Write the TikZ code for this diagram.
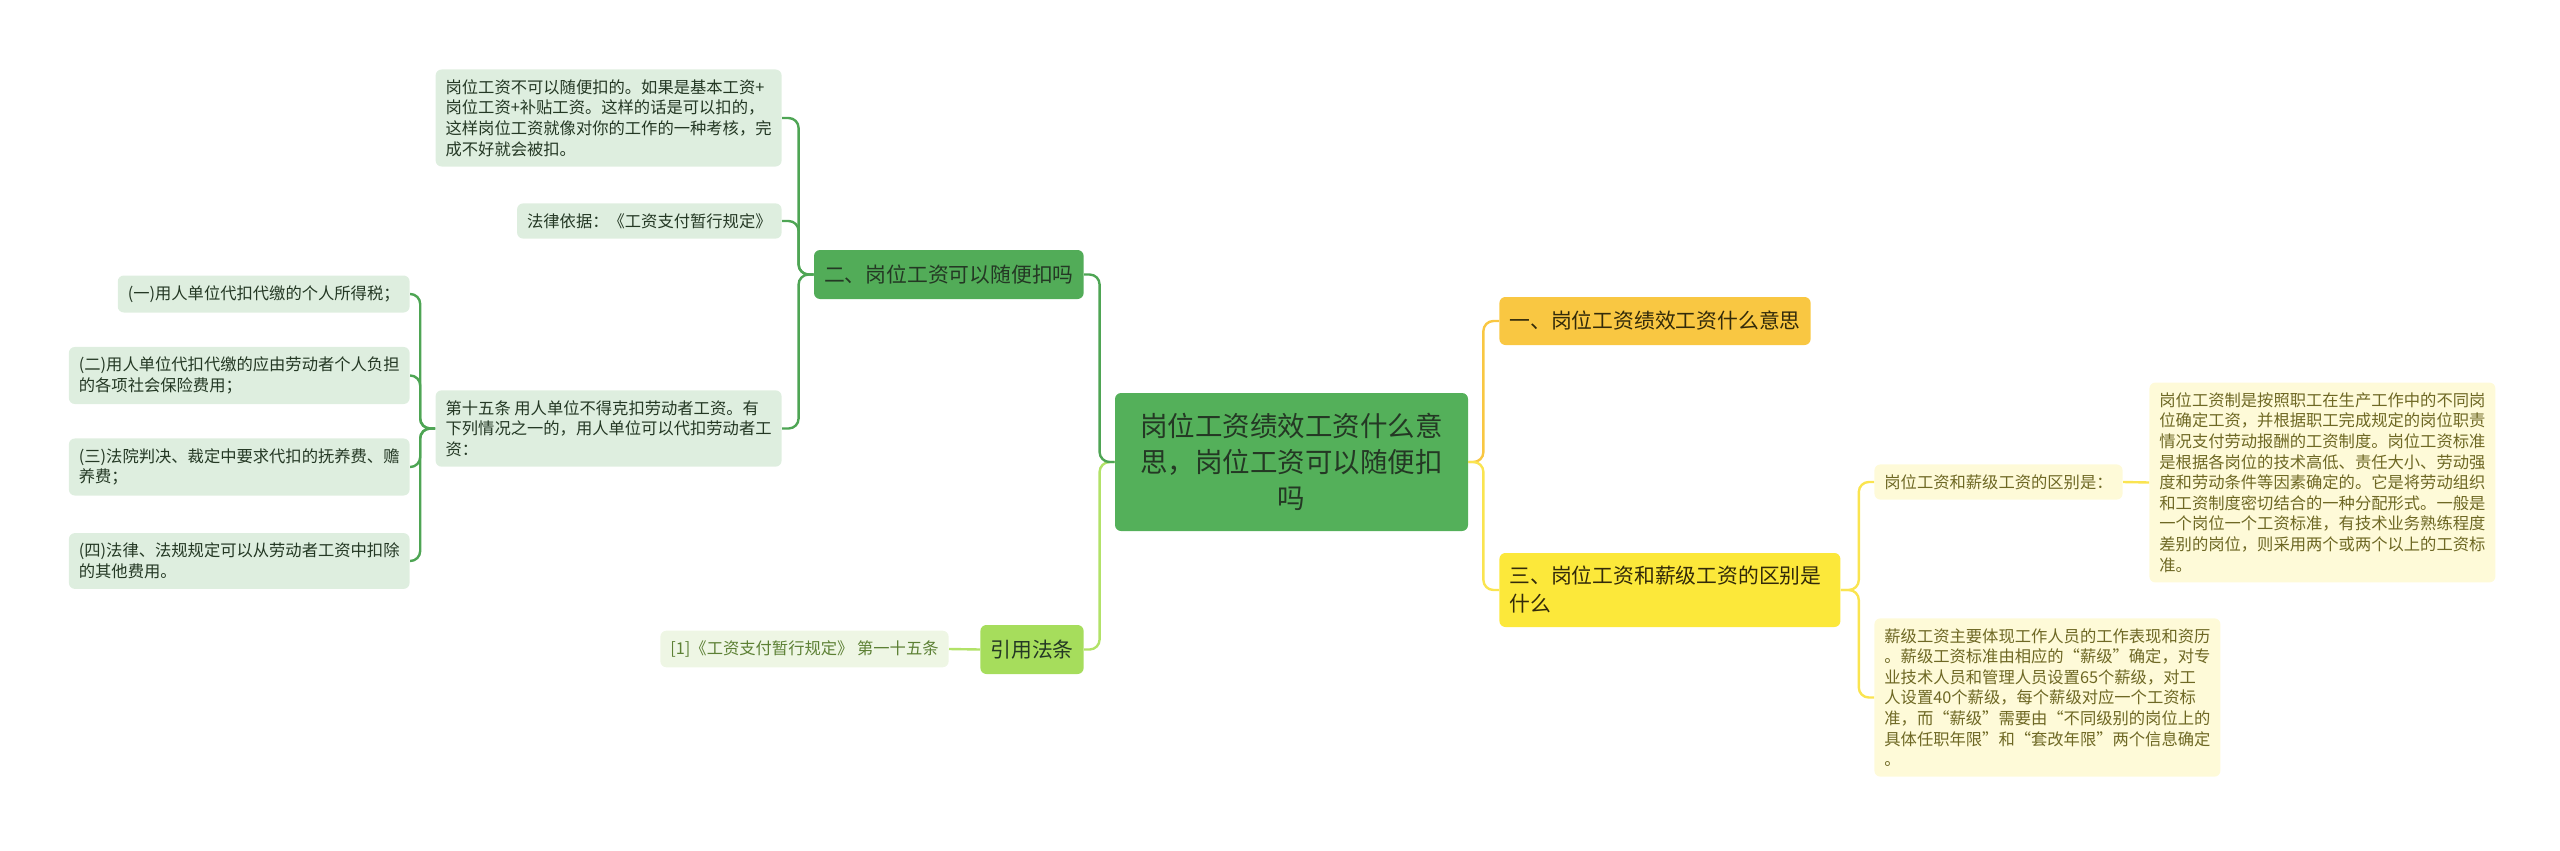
\documentclass[tikz,border=0pt]{standalone}
\usepackage{xcolor}
\usepackage{fontspec}
\setmainfont{Noto Sans CJK SC}
\usepackage{tikz}
\usetikzlibrary{positioning,calc}
\definecolor{rootgreen}{RGB}{84,176,90}
\definecolor{branchgreen}{RGB}{82,172,88}
\definecolor{linegreen}{RGB}{78,165,84}
\definecolor{limefill}{RGB}{166,221,92}
\definecolor{limeline}{RGB}{178,226,104}
\definecolor{palegreen}{RGB}{222,238,223}
\definecolor{palelime}{RGB}{238,246,228}
\definecolor{amber}{RGB}{249,199,66}
\definecolor{sunfill}{RGB}{252,232,58}
\definecolor{sunline}{RGB}{250,228,80}
\definecolor{cream}{RGB}{254,250,216}
\definecolor{inkgreen}{RGB}{36,56,36}
\definecolor{inkbrown}{RGB}{50,42,10}
\definecolor{olivetext}{RGB}{110,104,36}
\definecolor{limetext}{RGB}{92,128,52}
\tikzset{
  rootbox/.style={fill=rootgreen, rounded corners=3pt, text=inkgreen, align=center,
    font=\fontsize{13.75pt}{18pt}\selectfont, minimum width=176.5pt, minimum height=69pt, inner sep=0pt},
  greenbox/.style={fill=branchgreen, rounded corners=3pt, text=inkgreen,
    font=\fontsize{10.4pt}{14pt}\selectfont, minimum height=24.5pt, inner xsep=5pt},
  limebox/.style={fill=limefill, rounded corners=3pt, text=inkgreen,
    font=\fontsize{10.4pt}{14pt}\selectfont, minimum height=24.5pt, inner xsep=5pt},
  amberbox/.style={fill=amber, rounded corners=3pt, text=inkbrown,
    font=\fontsize{10.4pt}{14pt}\selectfont, minimum height=24pt, inner xsep=5pt},
  sunbox/.style={fill=sunfill, rounded corners=3pt, text=inkbrown, align=left, text width=160.5pt,
    font=\fontsize{10.4pt}{14pt}\selectfont, minimum height=37pt, inner xsep=5pt},
  leafgreen/.style={fill=palegreen, rounded corners=3pt, text=inkgreen, align=left,
    font=\fontsize{8.15pt}{10.3pt}\selectfont, inner xsep=5pt, inner ysep=5pt, minimum height=17pt},
  leaflime/.style={fill=palelime, rounded corners=3pt, text=limetext, align=left,
    font=\fontsize{8.15pt}{10.3pt}\selectfont, inner xsep=5pt, inner ysep=5pt, minimum height=17pt},
  leafsun/.style={fill=cream, rounded corners=3pt, text=olivetext, align=left,
    font=\fontsize{8.15pt}{10.3pt}\selectfont, inner xsep=5pt, inner ysep=5pt, minimum height=17pt},
  greenlink/.style={draw=linegreen, line width=1.2pt, rounded corners=5pt},
  limelink/.style={draw=limeline, line width=1.2pt, rounded corners=5pt},
  amberlink/.style={draw=amber, line width=1.2pt, rounded corners=5pt},
  sunlink/.style={draw=sunline, line width=1.2pt, rounded corners=5pt}
}
\begin{document}
\begin{tikzpicture}[x=0.5pt, y=-0.5pt]
\useasboundingbox (0,0) rectangle (2560,851);
\node[rootbox] (root) at (1291.5,462) {岗位工资绩效工资什么意\\思，岗位工资可以随便扣\\吗};

% left side
\node[greenbox, anchor=east] (deduct) at (1084,274.5) {二、岗位工资可以随便扣吗};
\node[limebox, anchor=east] (cite) at (1084,649.5) {引用法条};
\node[leafgreen, anchor=east] (note) at (782,118) {岗位工资不可以随便扣的。如果是基本工资+\\岗位工资+补贴工资。这样的话是可以扣的，\\这样岗位工资就像对你的工作的一种考核，完\\成不好就会被扣。};
\node[leafgreen, anchor=east] (basis) at (782,221) {法律依据：《工资支付暂行规定》};
\node[leafgreen, anchor=east] (art) at (782,428.5) {第十五条 用人单位不得克扣劳动者工资。有\\下列情况之一的，用人单位可以代扣劳动者工\\资：};
\node[leafgreen, anchor=east] (item1) at (410,294) {(一)用人单位代扣代缴的个人所得税；};
\node[leafgreen, anchor=east] (item2) at (410,375.5) {(二)用人单位代扣代缴的应由劳动者个人负担\\的各项社会保险费用；};
\node[leafgreen, anchor=east] (item3) at (410,467) {(三)法院判决、裁定中要求代扣的抚养费、赡\\养费；};
\node[leafgreen, anchor=east] (item4) at (410,561) {(四)法律、法规规定可以从劳动者工资中扣除\\的其他费用。};
\node[leaflime, anchor=east] (ref) at (949,649) {[1]《工资支付暂行规定》 第一十五条};

% right side
\node[amberbox, anchor=west] (meaning) at (1499,321) {一、岗位工资绩效工资什么意思};
\node[sunbox, anchor=west] (differ) at (1499,590) {三、岗位工资和薪级工资的区别是\\什么};
\node[leafsun, anchor=west] (contrast) at (1874,482) {岗位工资和薪级工资的区别是：};
\node[leafsun, anchor=west] (postdef) at (2149,482.5) {岗位工资制是按照职工在生产工作中的不同岗\\位确定工资，并根据职工完成规定的岗位职责\\情况支付劳动报酬的工资制度。岗位工资标准\\是根据各岗位的技术高低、责任大小、劳动强\\度和劳动条件等因素确定的。它是将劳动组织\\和工资制度密切结合的一种分配形式。一般是\\一个岗位一个工资标准，有技术业务熟练程度\\差别的岗位，则采用两个或两个以上的工资标\\准。};
\node[leafsun, anchor=west] (paydef) at (1874,697.5) {薪级工资主要体现工作人员的工作表现和资历\\。薪级工资标准由相应的“薪级”确定，对专\\业技术人员和管理人员设置65个薪级，对工\\人设置40个薪级，每个薪级对应一个工资标\\准，而“薪级”需要由“不同级别的岗位上的\\具体任职年限”和“套改年限”两个信息确定\\。};

\draw[limelink] (root.west) -- ++(-15,0) |- (cite.east);
\draw[greenlink] (root.west) -- ++(-15,0) |- (deduct.east);
\draw[amberlink] (root.east) -- ++(15,0) |- (meaning.west);
\draw[sunlink] (root.east) -- ++(15,0) |- (differ.west);

\draw[greenlink] (deduct.west) -- ++(-15,0) |- (note.east);
\draw[greenlink] (deduct.west) -- ++(-15,0) |- (basis.east);
\draw[greenlink] (deduct.west) -- ++(-15,0) |- (art.east);
\foreach \i in {1,...,4}
  \draw[greenlink] (art.west) -- ++(-15,0) |- (item\i.east);
\draw[limelink] (cite.west) -- (ref.east);

\draw[sunlink] (differ.east) -- ++(18,0) |- (contrast.west);
\draw[sunlink] (differ.east) -- ++(18,0) |- (paydef.west);
\draw[sunlink] (contrast.east) -- (postdef.west);
\end{tikzpicture}
\end{document}
